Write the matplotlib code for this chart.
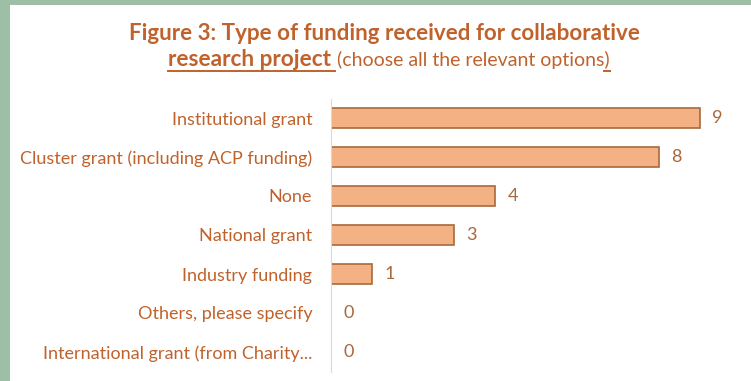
import matplotlib.pyplot as plt
from matplotlib.patches import Rectangle

categories = ['Institutional grant', 'Cluster grant (including ACP funding)', 'None',
              'National grant', 'Industry funding', 'Others, please specify',
              'International grant (from Charity...']
counts = [9, 8, 4, 3, 1, 0, 0]

W, H = 751, 381
TXT = '#C0622B'
plt.rcParams['font.family'] = ['Lato', 'DejaVu Sans']

fig = plt.figure(figsize=(W / 100, H / 100), dpi=100)
fig.patch.set_facecolor('#9DBFA6')
fig.patches.append(Rectangle((10 / W, 0), 1, 1 - 5 / H, transform=fig.transFigure,
                             facecolor='white', edgecolor='none', zorder=-5))

ax = fig.add_axes([331 / W, (H - 371.5) / H, 420 / W, 273 / H])
ax.set_facecolor('none')
y = list(range(len(categories)))
ax.barh(y, counts, height=0.5, color='#F4B183', edgecolor='#A86A3E', linewidth=1.2)
for yi, v in zip(y, counts):
    ax.text(v + 0.3, yi, str(v), va='center', ha='left', fontsize=13, color='#A8683C')
ax.set_ylim(len(categories) - 0.5, -0.5)
ax.set_xlim(0, 420 / 41)
ax.set_yticks(y)
ax.set_yticklabels(categories, fontsize=13, color=TXT)
ax.tick_params(axis='y', length=0, pad=13.5)
ax.set_xticks([])
for s in ['top', 'right', 'bottom']:
    ax.spines[s].set_visible(False)
ax.spines['left'].set_color('#D9D9D9')

# title
fig.text(384 / W, 1 - 33 / H, 'Figure 3: Type of funding received for collaborative',
         ha='center', va='center', fontsize=16.1, fontweight='bold', color=TXT)
fig.canvas.draw()
r = fig.canvas.get_renderer()
ty = 1 - 60 / H
t1 = fig.text(0, ty, 'research project ', ha='left', va='center', fontsize=16.3,
              fontweight='bold', color=TXT)
t2 = fig.text(0, ty, '(choose all the relevant options)', ha='left', va='center',
              fontsize=14, color=TXT)
w1 = t1.get_window_extent(r).width
w2 = t2.get_window_extent(r).width
x0 = (389 - (w1 + w2) / 2)
t1.set_x(x0 / W)
t2.set_x((x0 + w1) / W)
uy = ty - 11 / H
fig.add_artist(plt.Line2D([x0 / W, (x0 + w1 - 2) / W], [uy, uy], color=TXT, lw=1.4))
fig.add_artist(plt.Line2D([(x0 + w1 + w2 - 6) / W, (x0 + w1 + w2) / W], [uy, uy],
                          color=TXT, lw=1.4))

fig.savefig('out.png', dpi=100, facecolor=fig.get_facecolor())
